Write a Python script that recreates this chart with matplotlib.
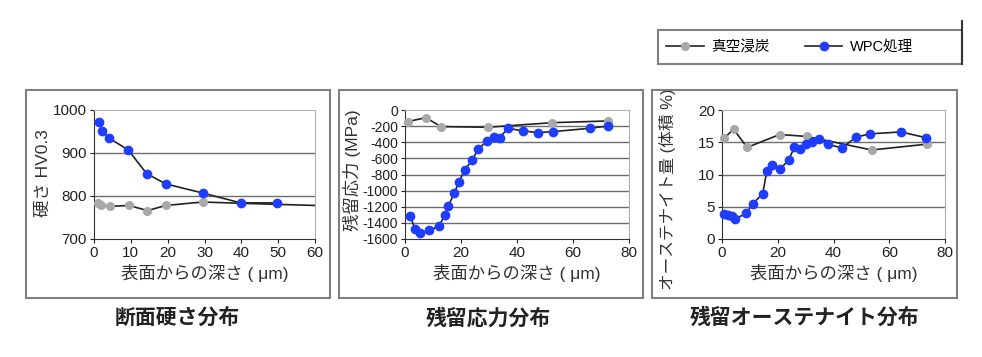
import matplotlib
matplotlib.use("Agg")
import matplotlib.pyplot as plt
from matplotlib.patches import Rectangle
from matplotlib.lines import Line2D

plt.rcParams['font.family'] = ['Liberation Sans', 'Noto Sans CJK JP', 'DejaVu Sans']
plt.rcParams['axes.unicode_minus'] = False

W, H = 982, 357

# --- data ---
# hardness (HV0.3)
hard_vac_x = [1, 2, 4.3, 9.6, 14.5, 19.5, 29.5, 40, 60]
hard_vac_y = [784, 780, 776, 778, 766, 778, 786, 783, 778]
hard_wpc_x = [1.4, 2.1, 4.2, 9.3, 14.3, 19.5, 29.5, 39.8, 49.8]
hard_wpc_y = [973, 951, 934, 907, 852, 828, 807, 784, 784]

# residual stress (MPa)
res_vac_x = [1, 7.4, 12.9, 29.5, 52.6, 72.6]
res_vac_y = [-144, -95, -206, -214, -157, -136]
res_wpc_x = [1.8, 3.6, 5.4, 8.6, 12.1, 14.3, 15.5, 17.6, 19.3, 21.4, 24, 26.2,
             29.4, 31.9, 33.9, 36.7, 42.3, 47.4, 53, 66, 72.6]
res_wpc_y = [-1311, -1476, -1526, -1493, -1443, -1299, -1188, -1031, -887, -742,
             -619, -482, -384, -330, -342, -227, -260, -280, -268, -227, -198]

# retained austenite (vol %)
aus_vac_x = [0.6, 4.2, 9, 20.7, 30.4, 53.7, 73.4]
aus_vac_y = [15.6, 17.0, 14.2, 16.2, 15.9, 13.8, 14.7]
aus_wpc_x = [0.6, 2.1, 3.6, 4.8, 8.7, 11.1, 14.6, 16.1, 17.9, 20.9, 23.9, 26, 28.1,
             30.1, 32.2, 34.9, 38, 43, 48.1, 53.1, 64.2, 73.2]
aus_wpc_y = [3.8, 3.7, 3.5, 3.1, 4.0, 5.5, 7.0, 10.6, 11.5, 10.8, 12.3, 14.2, 14.0,
             14.7, 15.1, 15.5, 14.7, 14.1, 15.8, 16.3, 16.6, 15.7]

legend_labels = ['真空浸炭', 'WPC処理']
xlabel = '表面からの深さ ( μm)'
titles = ['断面硬さ分布', '残留応力分布', '残留オーステナイト分布']
ylabels = ['硬さ HV0.3', '残留応力 (MPa)', 'オーステナイト量 (体積 %)']

GRAY = '#a8a8a8'
BLUE = '#1f3dff'


def px_rect(l, t, r, b):
    return [l / W, 1 - b / H, (r - l) / W, (b - t) / H]


fig = plt.figure(figsize=(W / 100, H / 100), dpi=100)

# panel frames
for l, r in [(26, 330), (339, 643), (652, 957)]:
    fig.patches.append(Rectangle((l / W, 1 - 298 / H), (r - l) / W, 208 / H,
                                 transform=fig.transFigure, fill=False,
                                 edgecolor='#808080', lw=1.5))

axes_px = [(94, 315), (405, 629), (722, 945)]
axs = [fig.add_axes(px_rect(l, 110, r, 239)) for l, r in axes_px]


def style(ax, xlim, xticks, ylim, yticks, grid, ysize=11):
    ax.set_xlim(*xlim)
    ax.set_ylim(*ylim)
    ax.set_xticks(xticks)
    ax.set_yticks(yticks)
    for g in grid:
        ax.axhline(g, color='#6e6e6e', lw=1.0, zorder=1)
    for s in ['top', 'right']:
        ax.spines[s].set_color('#b0b0b0')
    for s in ['left', 'bottom']:
        ax.spines[s].set_color('#333333')
    ax.tick_params(labelsize=11, length=3, width=0.8, colors='#222222', pad=2)
    ax.tick_params(axis='y', labelsize=ysize)


def draw(ax, x1, y1, x2, y2):
    ax.plot(x1, y1, '-', color='#222222', lw=1.2, marker='o', ms=5.5,
            mfc=GRAY, mec=GRAY, zorder=3, clip_on=False)
    ax.plot(x2, y2, '-', color='#222222', lw=1.2, marker='o', ms=6,
            mfc=BLUE, mec=BLUE, zorder=4, clip_on=False)


ax1, ax2, ax3 = axs
style(ax1, (0, 60), range(0, 61, 10), (700, 1000), range(700, 1001, 100), [800, 900])
ax1.plot(hard_vac_x, hard_vac_y, '-', color='#222222', lw=1.2, zorder=3)
ax1.plot(hard_vac_x[:-2], hard_vac_y[:-2], 'o', ms=5.5, color=GRAY, zorder=3)
ax1.plot(hard_wpc_x, hard_wpc_y, '-', color='#222222', lw=1.2, marker='o', ms=6,
         mfc=BLUE, mec=BLUE, zorder=4)

style(ax2, (0, 80), range(0, 81, 20), (-1600, 0), range(-1600, 1, 200),
      range(-1400, 0, 200), ysize=10)
draw(ax2, res_vac_x, res_vac_y, res_wpc_x, res_wpc_y)

style(ax3, (0, 80), range(0, 81, 20), (0, 20), range(0, 21, 5), [5, 10, 15])
draw(ax3, aus_vac_x, aus_vac_y, aus_wpc_x, aus_wpc_y)

# label anchor: right edge of the rotated y label, top of the x label
ylab_pos = [(-0.195, 0.51), (-0.195, 0.53), (-0.206, 0.39)]
ylab_size = [12.5, 12.5, 12]
for ax, yl, (lx, ly), fs in zip(axs, ylabels, ylab_pos, ylab_size):
    ax.set_ylabel(yl, fontsize=fs, color='#333333')
    ax.yaxis.set_label_coords(lx, ly)
    ax.set_xlabel(xlabel, fontsize=12.5, color='#333333')
    ax.xaxis.set_label_coords(0.5, -0.195)

for cx, t in zip([177, 488, 805], titles):
    fig.text(cx / W, 1 - 318 / H, t, ha='center', va='center', fontsize=15,
             fontweight='bold', color='#222222')

# legend
handles = [Line2D([], [], color='#222222', lw=1.2, marker='o', ms=5.5, mfc=GRAY, mec=GRAY),
           Line2D([], [], color='#222222', lw=1.2, marker='o', ms=6, mfc=BLUE, mec=BLUE)]
leg = fig.legend(handles, legend_labels, loc='center left',
                 bbox_to_anchor=(660 / W, 1 - 47 / H), ncol=2, fontsize=10.5,
                 frameon=False, handlelength=2.6, handletextpad=0.5,
                 columnspacing=2.4, borderaxespad=0)
fig.patches.append(Rectangle((658 / W, 1 - 64 / H), 304 / W, 34 / H,
                             transform=fig.transFigure, fill=False,
                             edgecolor='#808080', lw=1.5))
fig.lines.append(Line2D([962 / W, 962 / W], [1 - 21 / H, 1 - 64 / H],
                        transform=fig.transFigure, color='#333333', lw=1.5))

fig.savefig('out.png', dpi=100)
